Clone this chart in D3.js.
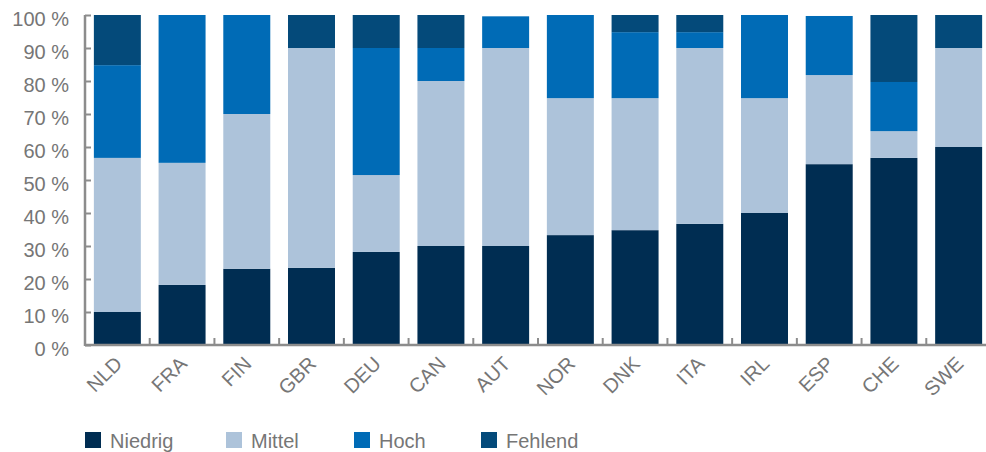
<!DOCTYPE html>
<html>
<head>
<meta charset="utf-8">
<script src="https://cdn.jsdelivr.net/npm/d3@7/dist/d3.min.js"></script>
<style>
  html, body { margin: 0; padding: 0; background: #fff; }
  svg text { font-family: "Liberation Sans", Arial, sans-serif; fill: #767676; }
</style>
</head>
<body>
<svg id="chart" width="986" height="452"></svg>
<script>
// Countries along the x axis
const categories = ["NLD", "FRA", "FIN", "GBR", "DEU", "CAN", "AUT", "NOR", "DNK", "ITA", "IRL", "ESP", "CHE", "SWE"];
// Shares in percent, stacked bottom to top
const niedrig = [10.0, 18.2, 23.1, 23.4, 28.2, 30.0, 30.0, 33.3, 34.8, 36.7, 40.0, 54.8, 56.7, 60.0];
const mittel  = [46.7, 37.0, 46.9, 66.6, 23.3, 50.0, 60.0, 41.5, 40.0, 53.3, 34.8, 27.0,  8.1, 30.0];
const hoch    = [28.1, 44.8, 30.0,  0.0, 38.5, 10.0,  9.6, 25.2, 20.0,  4.8, 25.2, 17.9, 14.9,  0.0];
const fehlend = [15.2,  0.0,  0.0, 10.0, 10.0, 10.0,  0.0,  0.0,  5.2,  5.2,  0.0,  0.0, 20.3, 10.0];
const seriesNames = ["Niedrig", "Mittel", "Hoch", "Fehlend"];
const yTicks = [0, 10, 20, 30, 40, 50, 60, 70, 80, 90, 100];

const colors = {
  Niedrig: "#002d52",
  Mittel: "#adc3da",
  Hoch: "#006bb6",
  Fehlend: "#044a7a"
};

const rows = categories.map((c, i) => ({
  cat: c, Niedrig: niedrig[i], Mittel: mittel[i], Hoch: hoch[i], Fehlend: fehlend[i]
}));
const stacked = d3.stack().keys(seriesNames)(rows);

const svg = d3.select("#chart");
const plotLeft = 85, plotRight = 991, plotTop = 15, plotBottom = 345;
const fontSize = 20;

const x = d3.scaleBand().domain(categories).range([plotLeft, plotRight])
  .paddingInner(0.274).paddingOuter(0.137);
const y = d3.scaleLinear().domain([0, 100]).range([plotBottom, plotTop]);

// Bars
svg.append("g").selectAll("g").data(stacked).join("g")
  .attr("fill", d => colors[d.key])
  .selectAll("rect").data(d => d).join("rect")
  .attr("x", d => x(d.data.cat))
  .attr("width", x.bandwidth())
  .attr("y", d => y(d[1]))
  .attr("height", d => y(d[0]) - y(d[1]));

const axisColor = "#8c8c8c";

// Y axis: line with inward ticks
const yAxis = svg.append("g").attr("transform", `translate(${plotLeft},0)`)
  .call(d3.axisRight(y).tickValues(yTicks).tickSize(6).tickFormat(""));
yAxis.select(".domain").remove();
yAxis.selectAll(".tick line").attr("stroke", axisColor).attr("stroke-width", 2);
svg.append("line")
  .attr("x1", plotLeft).attr("x2", plotLeft).attr("y1", y(100)).attr("y2", plotBottom + 1)
  .attr("stroke", axisColor).attr("stroke-width", 2.5);

// Y tick labels
svg.append("g").selectAll("text").data(yTicks).join("text")
  .attr("x", 69).attr("y", d => y(d) + 10.5)
  .attr("text-anchor", "end")
  .attr("font-size", fontSize)
  .text(d => `${d} %`);

// X axis line and tick marks between bars
svg.append("line")
  .attr("x1", plotLeft).attr("x2", 986).attr("y1", plotBottom).attr("y2", plotBottom)
  .attr("stroke", axisColor).attr("stroke-width", 2.5);
const step = x.step();
svg.append("g").selectAll("line").data(categories.slice(1)).join("line")
  .attr("x1", d => x(d) - (step - x.bandwidth()) / 2)
  .attr("x2", d => x(d) - (step - x.bandwidth()) / 2)
  .attr("y1", plotBottom).attr("y2", plotBottom - 7)
  .attr("stroke", axisColor).attr("stroke-width", 2);

// X labels, rotated
svg.append("g").selectAll("text").data(categories).join("text")
  .attr("text-anchor", "end")
  .attr("font-size", fontSize)
  .attr("transform", d => `translate(${x(d) + x.bandwidth() / 2 + 6},${plotBottom + 20}) rotate(-45)`)
  .text(d => d);

// Legend
const legendX = [85, 226, 354, 481];
const legend = svg.append("g").selectAll("g").data(seriesNames).join("g")
  .attr("transform", (d, i) => `translate(${legendX[i]},432)`);
legend.append("rect").attr("width", 16).attr("height", 16).attr("fill", d => colors[d]);
legend.append("text").attr("x", 25).attr("y", 15.5).attr("font-size", fontSize).text(d => d);
</script>
</body>
</html>
